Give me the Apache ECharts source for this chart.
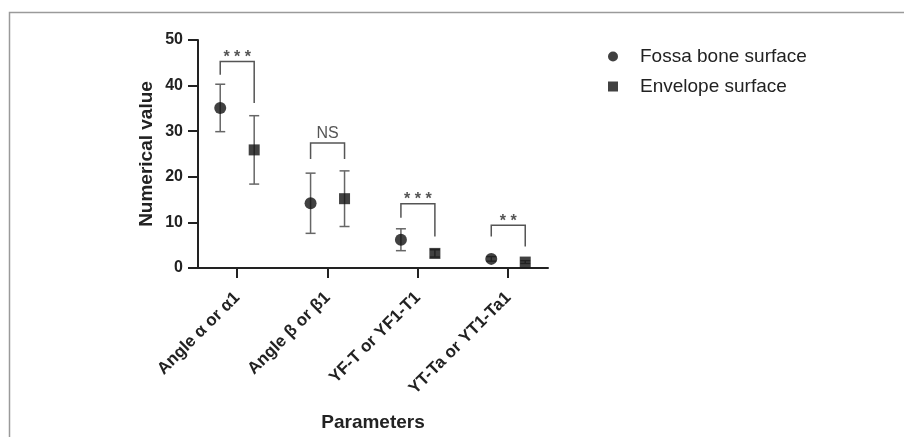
<!DOCTYPE html>
<html>
<head>
<meta charset="utf-8">
<script src="https://cdn.jsdelivr.net/npm/echarts@6/dist/echarts.min.js"></script>
<style>
  html, body { margin: 0; padding: 0; background: #fff; }
  #chart { width: 904px; height: 437px; }
</style>
</head>
<body>
<div id="chart"></div>
<script>
var categories = ['Angle α or α1', 'Angle β or β1', 'YF-T or YF1-T1', 'YT-Ta or YT1-Ta1'];

// mean and SD
var fossaMean = [35.1, 14.2, 6.2, 2.0];
var fossaSd = [5.2, 6.6, 2.4, 0.5];
var envMean = [25.9, 15.2, 3.2, 1.3];
var envSd = [7.5, 6.1, 0.8, 0.3];

// significance brackets: top of bracket, left leg end, right leg end, label
var bracketTop = [45.3, 27.4, 14.1, 9.4];
var bracketLeft = [42.4, 23.9, 11.0, 6.9];
var bracketRight = [36.2, 23.9, 6.9, 4.7];
var bracketText = ['* * *', 'NS', '* * *', '* *'];

var yTicks = [0, 10, 20, 30, 40, 50];

var off = 0.188;
var font = 'Liberation Sans, Arial, sans-serif';

var chart = echarts.init(document.getElementById('chart'));

function pts(mean, shift) {
    return mean.map(function (v, i) { return [i + shift, v]; });
}
function bars(mean, sd, shift) {
    return mean.map(function (v, i) { return [i + shift, v - sd[i], v + sd[i]]; });
}

function renderErr(params, api) {
    var x = api.value(0);
    var lo = api.coord([x, api.value(1)]);
    var hi = api.coord([x, api.value(2)]);
    var cap = 5;
    var st = { stroke: '#666', lineWidth: 1.5 };
    return {
        type: 'group',
        children: [
            { type: 'line', shape: { x1: lo[0], y1: lo[1], x2: hi[0], y2: hi[1] }, style: st },
            { type: 'line', shape: { x1: hi[0] - cap, y1: hi[1], x2: hi[0] + cap, y2: hi[1] }, style: st },
            { type: 'line', shape: { x1: lo[0] - cap, y1: lo[1], x2: lo[0] + cap, y2: lo[1] }, style: st }
        ]
    };
}

function renderBracket(params, api) {
    var i = api.value(0);
    var a = api.coord([i - off, api.value(2)]);
    var b = api.coord([i - off, api.value(1)]);
    var c = api.coord([i + off, api.value(1)]);
    var d = api.coord([i + off, api.value(3)]);
    var txt = bracketText[params.dataIndex];
    var stars = txt.indexOf('*') >= 0;
    return {
        type: 'group',
        children: [
            { type: 'polyline', shape: { points: [a, b, c, d] },
              style: { stroke: '#555', lineWidth: 1.5, fill: null } },
            { type: 'text', x: (b[0] + c[0]) / 2, y: stars ? b[1] - 4 : b[1] - 1,
              style: { text: txt, align: 'center', verticalAlign: stars ? 'middle' : 'bottom',
                       font: (stars ? 'bold 16px ' : '16px ') + font, fill: '#555' } }
        ]
    };
}

var option = {
    animation: false,
    backgroundColor: '#fff',
    graphic: [{
        type: 'rect',
        shape: { x: 9.5, y: 12.5, width: 920, height: 450 },
        style: { fill: null, stroke: '#9a9a9a', lineWidth: 1.5 }
    }],
    grid: { left: 198, right: 356, top: 40, bottom: 165 },
    legend: {
        orient: 'vertical',
        left: 603,
        top: 41,
        itemGap: 9,
        itemWidth: 10,
        itemHeight: 10,
        textStyle: { fontSize: 19, color: '#222', fontFamily: font,
                     lineHeight: 21, padding: [0, 0, 0, 17] },
        data: ['Fossa bone surface', 'Envelope surface']
    },
    xAxis: {
        type: 'value',
        min: -0.434,
        max: 3.44,
        name: 'Parameters',
        nameLocation: 'middle',
        nameGap: 145,
        nameTextStyle: { fontSize: 19, fontWeight: 'bold', color: '#222', fontFamily: font },
        splitLine: { show: false },
        axisLine: { lineStyle: { color: '#222', width: 2 } },
        axisTick: { customValues: [0, 1, 2, 3], length: 10, lineStyle: { color: '#222', width: 2 } },
        axisLabel: {
            customValues: [0, 1, 2, 3],
            rotate: 45,
            margin: 27,
            fontSize: 17,
            fontWeight: 'bold',
            color: '#222',
            fontFamily: font,
            formatter: function (v) { return categories[Math.round(v)]; }
        }
    },
    yAxis: {
        type: 'value',
        min: yTicks[0],
        max: yTicks[yTicks.length - 1],
        interval: 10,
        name: 'Numerical value',
        nameLocation: 'middle',
        nameGap: 42,
        nameTextStyle: { fontSize: 19, fontWeight: 'bold', color: '#222', fontFamily: font },
        splitLine: { show: false },
        axisLine: { show: true, onZero: false, lineStyle: { color: '#222', width: 2 } },
        axisTick: { show: true, length: 10, lineStyle: { color: '#222', width: 2 } },
        axisLabel: { fontSize: 16, fontWeight: 'bold', color: '#222', margin: 15, fontFamily: font }
    },
    series: [
        {
            type: 'custom',
            renderItem: renderErr,
            data: bars(fossaMean, fossaSd, -off),
            z: 1
        },
        {
            type: 'custom',
            renderItem: renderErr,
            data: bars(envMean, envSd, off),
            z: 1
        },
        {
            name: 'Fossa bone surface',
            type: 'scatter',
            symbol: 'circle',
            symbolSize: 12,
            itemStyle: { color: '#111' },
            data: pts(fossaMean, -off),
            z: 3
        },
        {
            name: 'Envelope surface',
            type: 'scatter',
            symbol: 'rect',
            symbolSize: 11,
            itemStyle: { color: '#111' },
            data: pts(envMean, off),
            z: 3
        },
        {
            type: 'custom',
            renderItem: renderBracket,
            data: categories.map(function (c, i) {
                return [i, bracketTop[i], bracketLeft[i], bracketRight[i]];
            }),
            z: 2
        }
    ]
};

chart.setOption(option);
window.onresize = chart.resize;
</script>
</body>
</html>
